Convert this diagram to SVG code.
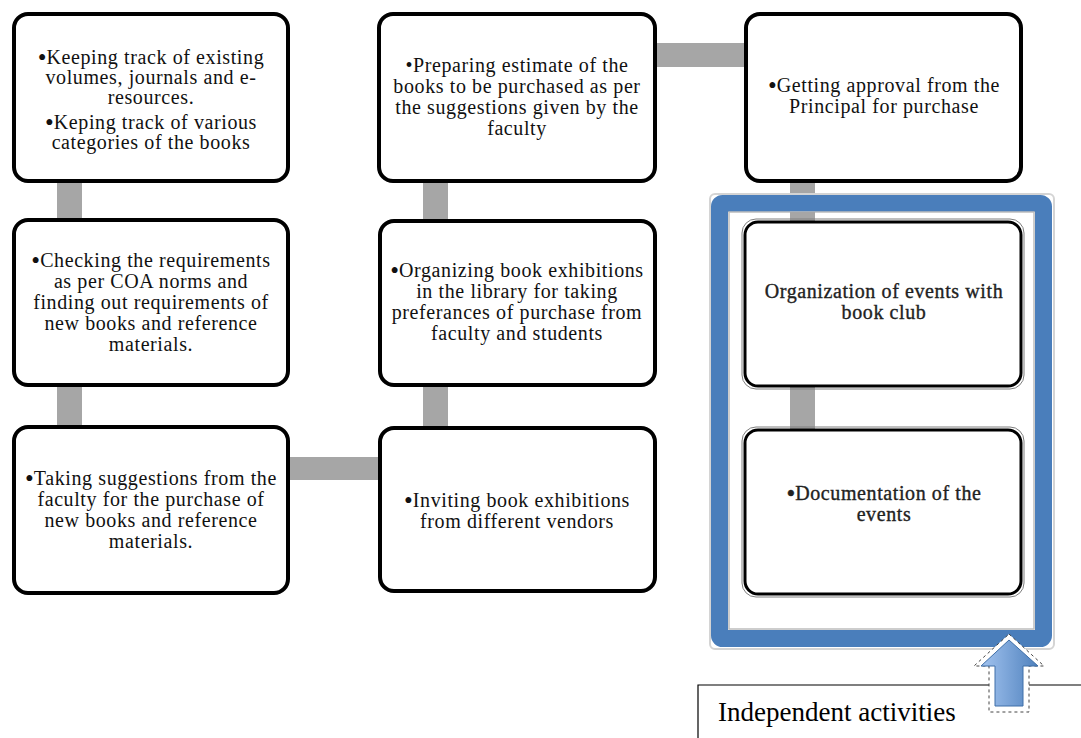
<svg xmlns="http://www.w3.org/2000/svg" width="1081" height="738" viewBox="0 0 1081 738">
  <style>
    .box { fill: #ffffff; stroke: #000000; stroke-width: 4; }
    .ibox { fill: #ffffff; stroke: #000000; stroke-width: 3; }
    .ibox2 { fill: none; stroke: #7f7f7f; stroke-width: 1; }
    .link { fill: #a6a6a6; }
    .t { font-family: "Liberation Serif", "Times New Roman", serif; font-size: 20px; letter-spacing: 0.6px; fill: #111111; text-anchor: middle; }
    .to { font-family: "Liberation Serif", "Times New Roman", serif; font-size: 20px; letter-spacing: 0.6px; fill: #222222; stroke: #222222; stroke-width: 0.35; text-anchor: middle; }
    .b { font-size: 25px; letter-spacing: 0; }
    .lbl { font-family: "Liberation Serif", "Times New Roman", serif; font-size: 27px; fill: #000000; }
  </style>
  <defs>
    <linearGradient id="arrowFill" x1="0" y1="0" x2="1" y2="0">
      <stop offset="0" stop-color="#a3c4f0"/>
      <stop offset="1" stop-color="#4f81bd"/>
    </linearGradient>
  </defs>

  <rect width="1081" height="738" fill="#ffffff"/>

  <!-- connectors -->
  <g id="connectors">
    <rect class="link" x="57" y="181" width="25" height="41"/>
    <rect class="link" x="57" y="385" width="25" height="44"/>
    <rect class="link" x="288" y="457" width="92" height="23"/>
    <rect class="link" x="423" y="385" width="25" height="45"/>
    <rect class="link" x="423" y="181" width="25" height="42"/>
    <rect class="link" x="655" y="43" width="93" height="24"/>
    <rect class="link" x="790" y="181" width="25" height="41"/>
    <rect class="link" x="790" y="386" width="25" height="44"/>
  </g>

  <!-- left column -->
  <g id="node-track">
    <rect class="box" x="14" y="14" width="274" height="167" rx="14"/>
    <text class="t" x="151" y="64"><tspan class="b" dy="1.5">•</tspan><tspan dy="-1.5">Keeping track of existing</tspan></text>
    <text class="t" x="151" y="84">volumes, journals and e-</text>
    <text class="t" x="151" y="104">resources.</text>
    <text class="t" x="151" y="129"><tspan class="b" dy="1.5">•</tspan><tspan dy="-1.5">Keping track of various</tspan></text>
    <text class="t" x="151" y="149">categories of the books</text>
  </g>

  <g id="node-check">
    <rect class="box" x="14" y="220" width="274" height="165" rx="14"/>
    <text class="t" x="151" y="267"><tspan class="b" dy="1.5">•</tspan><tspan dy="-1.5">Checking the requirements</tspan></text>
    <text class="t" x="151" y="288">as per COA norms and</text>
    <text class="t" x="151" y="309">finding out requirements of</text>
    <text class="t" x="151" y="330">new books and reference</text>
    <text class="t" x="151" y="351">materials.</text>
  </g>

  <g id="node-suggest">
    <rect class="box" x="14" y="427" width="274" height="166" rx="14"/>
    <text class="t" x="151" y="485"><tspan class="b" dy="1.5">•</tspan><tspan dy="-1.5">Taking suggestions from the</tspan></text>
    <text class="t" x="151" y="506">faculty for the purchase of</text>
    <text class="t" x="151" y="527">new books and reference</text>
    <text class="t" x="151" y="548">materials.</text>
  </g>

  <!-- middle column -->
  <g id="node-estimate">
    <rect class="box" x="379" y="14" width="276" height="167" rx="14"/>
    <text class="t" x="517" y="72">•Preparing estimate of the</text>
    <text class="t" x="517" y="93">books to be purchased as per</text>
    <text class="t" x="517" y="114">the suggestions given by the</text>
    <text class="t" x="517" y="135">faculty</text>
  </g>

  <g id="node-organize">
    <rect class="box" x="380" y="221" width="275" height="164" rx="14"/>
    <text class="t" x="517" y="277"><tspan class="b" dy="1.5">•</tspan><tspan dy="-1.5">Organizing book exhibitions</tspan></text>
    <text class="t" x="517" y="298">in the library for taking</text>
    <text class="t" x="517" y="319">preferances of purchase from</text>
    <text class="t" x="517" y="340">faculty and students</text>
  </g>

  <g id="node-invite">
    <rect class="box" x="380" y="428" width="275" height="163" rx="14"/>
    <text class="t" x="517" y="507"><tspan class="b" dy="1.5">•</tspan><tspan dy="-1.5">Inviting book exhibitions</tspan></text>
    <text class="t" x="517" y="528">from different vendors</text>
  </g>

  <!-- right column -->
  <g id="node-approval">
    <rect class="box" x="746" y="14" width="275" height="167" rx="14"/>
    <text class="t" x="884" y="92"><tspan class="b" dy="1.5">•</tspan><tspan dy="-1.5">Getting approval from the</tspan></text>
    <text class="t" x="884" y="113">Principal for purchase</text>
  </g>

  <!-- frame around the independent activities -->
  <g id="frame-independent">
    <rect x="710" y="194" width="344" height="455" rx="5" fill="none" stroke="#d4d4d4" stroke-width="2"/>
    <rect x="719.5" y="203.5" width="324" height="435" rx="3" fill="none" stroke="#4a7ebb" stroke-width="17"/>
    <rect x="729" y="212" width="305" height="417" fill="none" stroke="#bdbdbd" stroke-width="1.5"/>
    <rect x="790" y="212" width="25" height="10" fill="#a6a6a6"/>
  </g>

  <g id="node-events">
    <rect class="ibox2" x="742" y="219" width="282" height="170" rx="14"/>
    <rect class="ibox" x="745" y="222" width="276" height="164" rx="13"/>
    <text class="to" x="884" y="298">Organization of events with</text>
    <text class="to" x="884" y="319">book club</text>
  </g>

  <g id="node-docs">
    <rect class="ibox2" x="742" y="427" width="282" height="170" rx="14"/>
    <rect class="ibox" x="745" y="430" width="276" height="164" rx="13"/>
    <text class="to" x="884" y="500"><tspan class="b" dy="1.5">•</tspan><tspan dy="-1.5">Documentation of the</tspan></text>
    <text class="to" x="884" y="521">events</text>
  </g>

  <!-- caption box -->
  <g id="label-independent">
    <path d="M698,738 V685 H1081" fill="none" stroke="#000000" stroke-width="1.2"/>
    <text class="lbl" x="718" y="721">Independent activities</text>
  </g>

  <!-- upward arrow -->
  <g id="arrow-up">
    <path d="M1009,634 L1044,666 L1029,666 L1029,712 L989,712 L989,666 L974,666 Z" fill="#ffffff" stroke="#444444" stroke-width="1" stroke-dasharray="3,3"/>
    <path d="M1009,640 L1038,666 L1023,666 L1023,706 L995,706 L995,666 L981,666 Z" fill="url(#arrowFill)" stroke="#3f6fa8" stroke-width="1"/>
  </g>
</svg>
